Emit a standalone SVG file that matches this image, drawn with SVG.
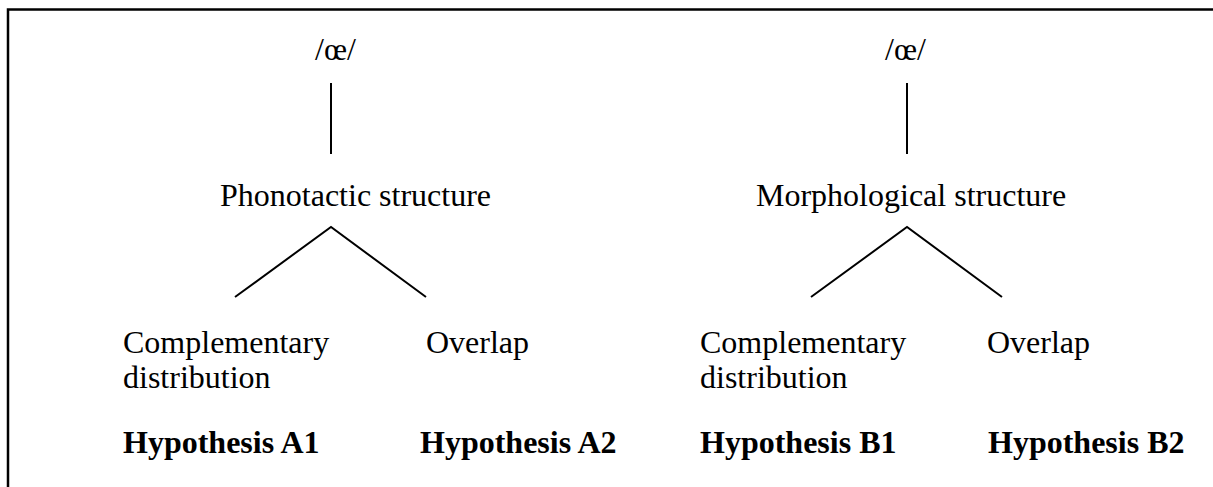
<svg xmlns="http://www.w3.org/2000/svg" width="1213" height="487" viewBox="0 0 1213 487">
<style>
text{font-family:"Liberation Serif","Times New Roman",serif;font-size:32px;fill:#000}
.b{font-weight:bold}
.ln{stroke:#000;stroke-width:2;fill:none}
.frame{stroke:#000;stroke-width:2.5;fill:none}
</style>
<rect width="1213" height="487" fill="#fff"/>
<path class="frame" d="M8,487 V9.5 H1213"/>
<g id="connectors">
<line class="ln" x1="331" y1="83" x2="331" y2="154"/>
<line class="ln" x1="907" y1="83" x2="907" y2="154"/>
<polyline class="ln" points="235,297 331,227 426,297"/>
<polyline class="ln" points="811,297 907,227 1002,297"/>
</g>
<g id="rootA"><text x="315" y="60">/œ/</text></g>
<g id="rootB"><text x="885" y="60">/œ/</text></g>
<g id="phono"><text x="220" y="206">Phonotactic structure</text></g>
<g id="morph"><text x="756" y="206">Morphological structure</text></g>
<g id="compA"><text x="123" y="353">Complementary</text><text x="123" y="388">distribution</text></g>
<g id="overA"><text x="426" y="353">Overlap</text></g>
<g id="compB"><text x="700" y="353">Complementary</text><text x="700" y="388">distribution</text></g>
<g id="overB"><text x="987" y="353">Overlap</text></g>
<g id="hypA1"><text class="b" x="123" y="453">Hypothesis A1</text></g>
<g id="hypA2"><text class="b" x="420" y="453">Hypothesis A2</text></g>
<g id="hypB1"><text class="b" x="700" y="453">Hypothesis B1</text></g>
<g id="hypB2"><text class="b" x="988" y="453">Hypothesis B2</text></g>
</svg>
